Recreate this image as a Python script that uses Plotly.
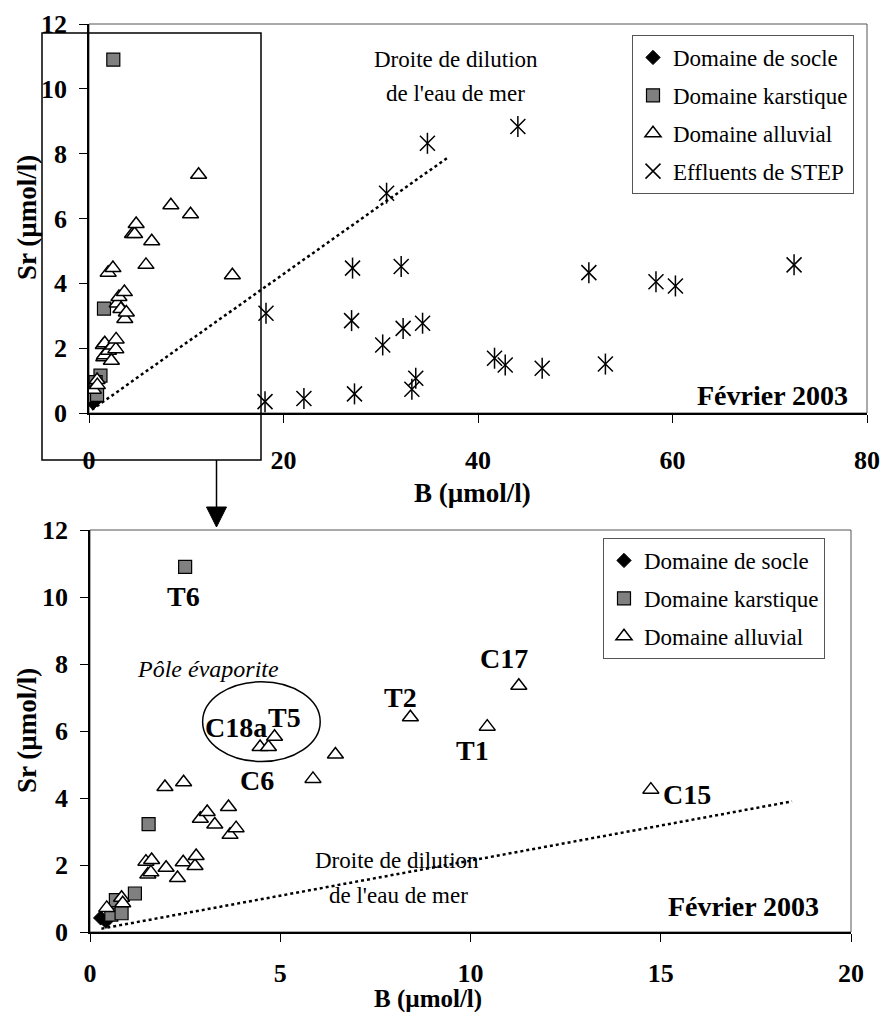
import plotly.graph_objects as go

# ---------------- data ----------------
socle_B = [0.28, 0.42]
socle_Sr = [0.42, 0.32]

karst_B = [2.5, 1.54, 1.18, 0.68, 0.56, 0.83]
karst_Sr = [10.9, 3.22, 1.15, 0.95, 0.52, 0.56]

alluv_B = [0.44, 0.83, 0.86, 1.47, 1.62, 1.52, 1.60, 2.00, 2.30, 2.45, 2.76, 2.79,
           1.97, 2.46, 2.90, 3.08, 3.28, 3.64, 3.68, 3.84, 4.47, 4.69, 4.85, 5.86,
           6.45, 8.42, 10.44, 11.27, 14.74]
alluv_Sr = [0.72, 1.02, 0.86, 2.10, 2.15, 1.72, 1.78, 1.92, 1.61, 2.08, 1.97, 2.27,
            4.33, 4.47, 3.38, 3.58, 3.21, 3.73, 2.90, 3.10, 5.52, 5.52, 5.83, 4.57,
            5.30, 6.41, 6.13, 7.35, 4.25]

step_B = [44.1, 34.8, 30.6, 27.1, 32.1, 51.4, 18.2, 27.0, 32.3, 34.3, 30.2, 41.7,
          42.8, 46.6, 53.1, 33.6, 33.2, 27.3, 22.1, 18.1, 58.3, 60.3, 72.5]
step_Sr = [8.84, 8.32, 6.78, 4.47, 4.52, 4.33, 3.08, 2.85, 2.61, 2.77, 2.10, 1.69,
           1.48, 1.38, 1.51, 1.07, 0.73, 0.59, 0.45, 0.35, 4.05, 3.92, 4.57]

dil_top_B = [0.3, 36.8]
dil_top_Sr = [0.1, 7.86]
dil_bot_B = [0.3, 18.45]
dil_bot_Sr = [0.1, 3.9]

top_xticks = [0, 20, 40, 60, 80]
bot_xticks = [0, 5, 10, 15, 20]
yticks = [0, 2, 4, 6, 8, 10, 12]

# sample labels (bottom chart)
lab_text = ["T6", "C18a", "T5", "C6", "T2", "T1", "C17", "C15"]
lab_B = [2.45, 3.84, 5.1, 4.39, 8.16, 10.04, 10.88, 15.68]
lab_Sr = [10.03, 6.11, 6.4, 4.52, 7.0, 5.42, 8.15, 4.1]

# evaporite ellipse (data units)
ell_B = [2.96, 6.05]
ell_Sr = [5.09, 7.47]

# ---------------- style ----------------
W, H = 883, 1012
SERIF = "Liberation Serif, Times New Roman, serif"


def fx(px):
    return px / W


def fy(py):
    return 1 - py / H


fig = go.Figure()


def add_series(xa, ya, leg, with_step, dilB, dilSr):
    fig.add_trace(go.Scatter(x=dilB, y=dilSr, mode="lines", xaxis=xa, yaxis=ya,
                             line=dict(color="black", width=2.5, dash="dot"),
                             showlegend=False, hoverinfo="skip"))
    fig.add_trace(go.Scatter(x=socle_B, y=socle_Sr, mode="markers", name="Domaine de socle",
                             xaxis=xa, yaxis=ya, legend=leg, legendgroup=leg + "a",
                             marker=dict(symbol="diamond", size=11, color="black",
                                         line=dict(color="black", width=1))))
    fig.add_trace(go.Scatter(x=karst_B, y=karst_Sr, mode="markers", name="Domaine karstique",
                             xaxis=xa, yaxis=ya, legend=leg, legendgroup=leg + "b",
                             marker=dict(symbol="square", size=13, color="#808080",
                                         line=dict(color="black", width=1.2))))
    fig.add_trace(go.Scatter(x=alluv_B, y=alluv_Sr, mode="markers", name="Domaine alluvial",
                             xaxis=xa, yaxis=ya, legend=leg, legendgroup=leg + "c",
                             marker=dict(symbol="triangle-up", size=14, color="white",
                                         line=dict(color="black", width=1.5))))
    if with_step:
        fig.add_trace(go.Scatter(x=step_B, y=step_Sr, mode="markers", name="Effluents de STEP",
                                 xaxis=xa, yaxis=ya, legend=leg, legendgroup=leg + "d",
                                 marker=dict(symbol="x-thin-open", size=15, color="black",
                                             line=dict(color="black", width=1.5))))
        fig.add_trace(go.Scatter(x=step_B, y=step_Sr, mode="markers", showlegend=False,
                                 xaxis=xa, yaxis=ya, hoverinfo="skip",
                                 marker=dict(symbol="line-ns-open", size=15, color="black",
                                             line=dict(color="black", width=1.5))))


add_series("x", "y", "legend", True, dil_top_B, dil_top_Sr)
add_series("x2", "y2", "legend2", False, dil_bot_B, dil_bot_Sr)

tickfont = dict(family=SERIF, size=26, color="black", weight="bold")
axcommon = dict(showgrid=False, zeroline=False, showline=True, linecolor="black",
                linewidth=1.5, ticks="outside", ticklen=8, tickcolor="black",
                tickwidth=1, tickfont=tickfont, automargin=False)


def bold(vals):
    return ["<b>%d</b>" % v for v in vals]


legcommon = dict(font=dict(family=SERIF, size=23, color="black"),
                 bgcolor="white", bordercolor="#555555", borderwidth=1,
                 xanchor="left", yanchor="top", tracegroupgap=5, itemsizing="trace")

fig.update_layout(
    template="none",
    width=W, height=H, margin=dict(l=0, r=0, t=0, b=0, autoexpand=False),
    paper_bgcolor="white", plot_bgcolor="white",
    xaxis=dict(domain=[fx(89), fx(867)], range=[0, 80], tickvals=top_xticks,
               ticktext=bold(top_xticks), anchor="y", ticklabelstandoff=15, **axcommon),
    yaxis=dict(domain=[fy(413), fy(24)], range=[0, 12], tickvals=yticks,
               ticktext=bold(yticks), anchor="x", ticklabelstandoff=7, **axcommon),
    xaxis2=dict(domain=[fx(90), fx(851)], range=[0, 20], tickvals=bot_xticks,
                ticktext=bold(bot_xticks), anchor="y2", ticklabelstandoff=9, **axcommon),
    yaxis2=dict(domain=[fy(932), fy(530)], range=[0, 12], tickvals=yticks,
                ticktext=bold(yticks), anchor="x2", ticklabelstandoff=7, **axcommon),
    legend=dict(x=fx(632), y=fy(35), **legcommon),
    legend2=dict(x=fx(603), y=fy(538), **legcommon),
)

# plot-area borders
for xr, yr in (("x domain", "y domain"), ("x2 domain", "y2 domain")):
    fig.add_shape(type="rect", xref=xr, yref=yr, x0=0, x1=1, y0=0, y1=1,
                  line=dict(color="#555555", width=1), layer="below")

# zoom rectangle and arrow
fig.add_shape(type="rect", xref="paper", yref="paper", x0=fx(42), x1=fx(261),
              y0=fy(460), y1=fy(33), line=dict(color="black", width=1.5))
fig.add_shape(type="line", xref="paper", yref="paper", x0=fx(216.5), x1=fx(216.5),
              y0=fy(460), y1=fy(508), line=dict(color="black", width=1.5))
fig.add_shape(type="path", xref="paper", yref="paper",
              path=f"M {fx(206.5)},{fy(507)} L {fx(226.5)},{fy(507)} L {fx(216.5)},{fy(527)} Z",
              fillcolor="black", line=dict(color="black", width=1))

# evaporite ellipse
fig.add_shape(type="circle", xref="x2", yref="y2", x0=ell_B[0], x1=ell_B[1],
              y0=ell_Sr[0], y1=ell_Sr[1], line=dict(color="black", width=1.5))

boldfont = dict(family=SERIF, size=28, color="black", weight="bold")
titlefont = dict(family=SERIF, size=27, color="black", weight="bold")
regfont = dict(family=SERIF, size=23, color="black")

C = dict(xanchor="center", yanchor="middle", showarrow=False)
ann = []
# axis titles
ann.append(dict(text="<b>Sr (µmol/l)</b>", xref="paper", yref="paper", x=fx(27), y=fy(218),
                textangle=-90, font=titlefont, **C))
ann.append(dict(text="<b>Sr (µmol/l)</b>", xref="paper", yref="paper", x=fx(27), y=fy(731),
                textangle=-90, font=titlefont, **C))
ann.append(dict(text="<b>B (µmol/l)</b>", xref="paper", yref="paper", x=fx(472), y=fy(493),
                font=titlefont, **C))
ann.append(dict(text="<b>B (µmol/l)</b>", xref="paper", yref="paper", x=fx(428), y=fy(999),
                font=dict(family=SERIF, size=25, color="black", weight="bold"), **C))
# Février 2003
ann.append(dict(text="<b>Février 2003</b>", xref="x", yref="y", x=78.3, y=0.55,
                xanchor="right", yanchor="middle", showarrow=False, font=boldfont))
ann.append(dict(text="<b>Février 2003</b>", xref="x2", yref="y2", x=19.2, y=0.75,
                xanchor="right", yanchor="middle", showarrow=False, font=boldfont))
# dilution labels
ann.append(dict(text="Droite de dilution", xref="x", yref="y", x=37.7, y=10.9,
                font=regfont, **C))
ann.append(dict(text="de l'eau de mer", xref="x", yref="y", x=37.7, y=9.85,
                font=regfont, **C))
ann.append(dict(text="Droite de dilution", xref="x2", yref="y2", x=8.08, y=2.14,
                font=regfont, **C))
ann.append(dict(text="de l'eau de mer", xref="x2", yref="y2", x=8.1, y=1.10,
                font=regfont, **C))
ann.append(dict(text="<i>Pôle évaporite</i>", xref="x2", yref="y2", x=3.1, y=7.86,
                font=dict(family=SERIF, size=24, color="black", style="italic"), **C))
for t, bx, sy in zip(lab_text, lab_B, lab_Sr):
    ann.append(dict(text="<b>%s</b>" % t, xref="x2", yref="y2", x=bx, y=sy,
                    font=boldfont, **C))

fig.update_layout(annotations=ann)

fig.write_html("out.html", config={"displayModeBar": False},
               post_script="document.body.style.margin='0px';document.body.style.padding='0px';")
